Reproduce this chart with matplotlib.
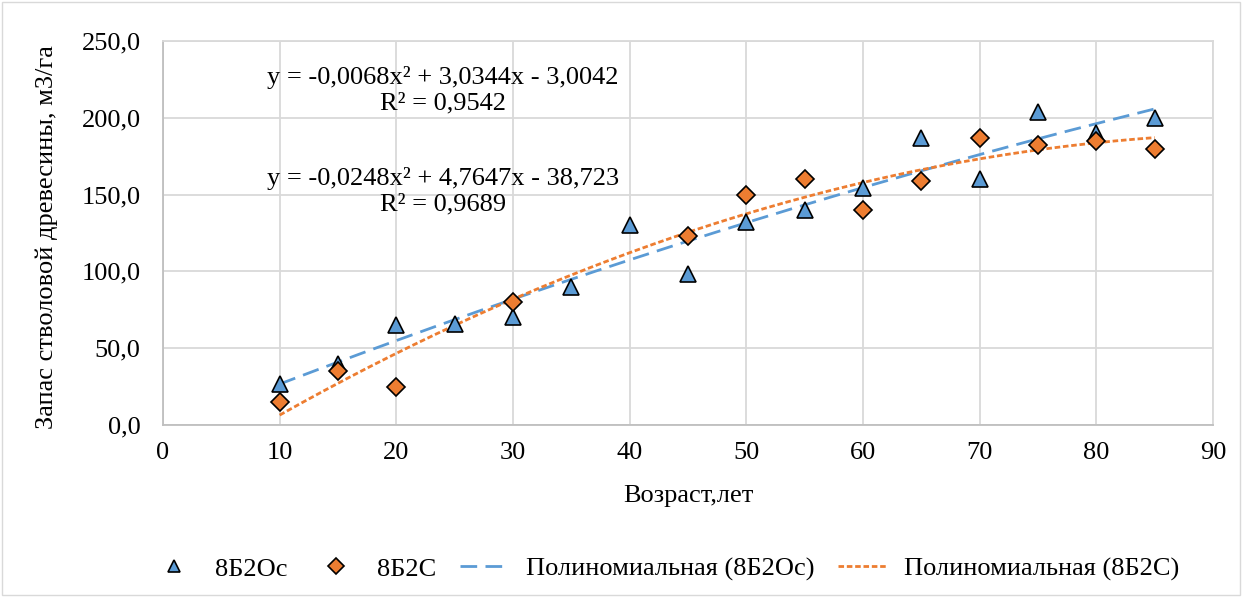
import numpy as np
import matplotlib.pyplot as plt
from matplotlib.patches import Rectangle

plt.rcParams['font.family'] = ['Liberation Serif', 'DejaVu Serif']

# DATA
age_os = [10, 15, 20, 25, 30, 35, 40, 45, 50, 55, 60, 65, 70, 75, 80, 85]
vol_os = [27, 40, 65, 66, 70, 90, 130, 98, 132, 140, 154, 187, 160, 204, 190, 200]
age_s = [10, 15, 20, 30, 45, 50, 55, 60, 65, 70, 75, 80, 85]
vol_s = [15, 35, 25, 80, 123, 150, 160, 140, 159, 187, 182, 185, 180]

# trendline coefficients as printed on the chart
coef_os = [-0.0068, 3.0344, -3.0042]
coef_s = [-0.0248, 4.7647, -38.723]
eq_os = "y = -0,0068x² + 3,0344x - 3,0042\nR² = 0,9542"
eq_s = "y = -0,0248x² + 4,7647x - 38,723\nR² = 0,9689"

x_ticks = [0, 10, 20, 30, 40, 50, 60, 70, 80, 90]
y_ticks = [0, 50, 100, 150, 200, 250]
y_labels = ["0,0", "50,0", "100,0", "150,0", "200,0", "250,0"]

names = ["8Б2Ос", "8Б2С", "Полиномиальная (8Б2Ос)", "Полиномиальная (8Б2С)"]

BLUE = "#5B9BD5"
ORANGE = "#ED7D31"
FS = 19

# PLOT
fig = plt.figure(figsize=(12.42, 5.97), dpi=100)
ax = fig.add_axes([0.1312, 0.2881, 0.8455, 0.6432])

xx = np.linspace(min(age_os), max(age_os), 200)
ax.plot(age_os, vol_os, "^", color=BLUE, markeredgecolor="black", markeredgewidth=1.2,
        markersize=11, label=names[0], zorder=3)
ax.plot(age_s, vol_s, "D", color=ORANGE, markeredgecolor="black", markeredgewidth=1.2,
        markersize=9, label=names[1], zorder=4)
ax.plot(xx, np.polyval(coef_os, xx), color=BLUE, lw=2, linestyle=(0, (6, 3)),
        label=names[2], zorder=2)
xs = np.linspace(min(age_s), max(age_s), 200)
ax.plot(xs, np.polyval(coef_s, xs), color=ORANGE, lw=2, linestyle=(0, (2, 1)),
        label=names[3], zorder=2)

ax.text(24.0, 218, eq_os, ha="center", va="center", fontsize=FS, linespacing=1.2)
ax.text(24.0, 152, eq_s, ha="center", va="center", fontsize=FS, linespacing=1.2)

ax.set_xlim(0, 90)
ax.set_ylim(0, 250)
ax.set_xticks(x_ticks)
ax.set_yticks(y_ticks)
ax.set_yticklabels(y_labels)
ax.tick_params(labelsize=FS, length=0)
ax.tick_params(axis="x", pad=12)
ax.tick_params(axis="y", pad=16)
ax.grid(True, color="#D9D9D9", lw=1.3)
ax.set_axisbelow(True)
for s in ax.spines.values():
    s.set_color("#D9D9D9")
    s.set_linewidth(1.3)
ax.spines["left"].set_color("#BFBFBF")
ax.spines["bottom"].set_color("#BFBFBF")

ax.set_xlabel("Возраст,лет", fontsize=FS)
ax.xaxis.set_label_coords(0.5, -0.155)
ax.set_ylabel("Запас стволовой древесины, м3/га", fontsize=FS)
ax.yaxis.set_label_coords(-0.100, 0.49)

leg = ax.legend(loc="center", bbox_to_anchor=(0.477, -0.375), ncol=4, frameon=False,
                fontsize=FS, handlelength=1.9, columnspacing=0.9, handletextpad=0.6,
                markerscale=0.85)

fig.patches.append(Rectangle((0.002, 0.003), 0.996, 0.994, transform=fig.transFigure,
                             fill=False, edgecolor="#D9D9D9", lw=1))

fig.savefig("out.png", dpi=100)
